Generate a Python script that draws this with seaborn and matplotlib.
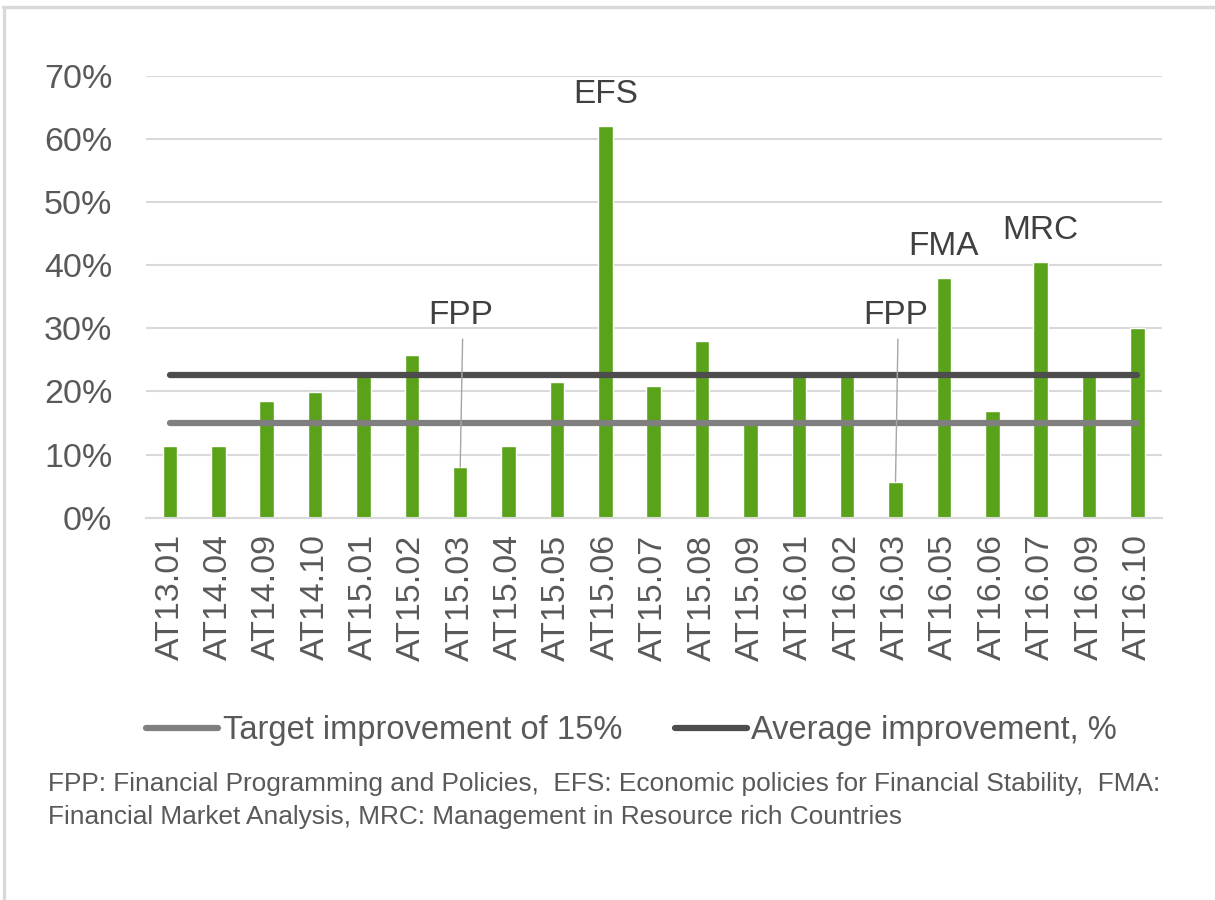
import numpy as np
import pandas as pd
import matplotlib
matplotlib.use("Agg")
import matplotlib.pyplot as plt
import seaborn as sns
from matplotlib.lines import Line2D

# data
courses = ["AT13.01", "AT14.04", "AT14.09", "AT14.10", "AT15.01", "AT15.02", "AT15.03",
           "AT15.04", "AT15.05", "AT15.06", "AT15.07", "AT15.08", "AT15.09", "AT16.01",
           "AT16.02", "AT16.03", "AT16.05", "AT16.06", "AT16.07", "AT16.09", "AT16.10"]
improvement = [11.4, 11.4, 18.5, 19.9, 22.5, 25.8, 8.0, 11.4, 21.5, 62.0, 20.9,
               28.0, 15.0, 22.5, 22.5, 5.7, 38.0, 16.9, 40.5, 22.5, 30.0]
target_value = 15.0
average_value = 22.6
y_ticks = [0, 10, 20, 30, 40, 50, 60, 70]

# labels above bars: (course, label)
direct_labels = [("AT15.06", "EFS"), ("AT16.05", "FMA"), ("AT16.07", "MRC")]
callout_labels = [("AT15.03", "FPP"), ("AT16.03", "FPP")]

footer = ("FPP: Financial Programming and Policies,  EFS: Economic policies for Financial Stability,  FMA:\n"
          "Financial Market Analysis, MRC: Management in Resource rich Countries")

GREEN = "#5BA21B"
TARGET_C = "#7F7F7F"
AVG_C = "#4D4D4D"
TEXT_C = "#595959"
GRID_C = "#D9D9D9"

sns.set_theme(style="white")
plt.rcParams["font.family"] = ["Liberation Sans", "DejaVu Sans"]

df = pd.DataFrame({"course": courses, "improvement": improvement})
pos = np.arange(len(courses))

fig = plt.figure(figsize=(12.15, 9), dpi=100)
ax = fig.add_axes([0.120, 0.4248, 0.836, 0.4911])

sns.barplot(data=df, x="course", y="improvement", color=GREEN, width=0.3,
            saturation=1, ax=ax, zorder=2)

sns.lineplot(x=pos, y=[target_value] * len(pos), color=TARGET_C, lw=4.5,
             solid_capstyle="round", label="Target improvement of 15%", ax=ax, zorder=3)
sns.lineplot(x=pos, y=[average_value] * len(pos), color=AVG_C, lw=4.5,
             solid_capstyle="round", label="Average improvement, %", ax=ax, zorder=3)

ax.set_xlim(-0.5, len(courses) - 0.5)
ax.set_ylim(0, 70)
ax.set_yticks(y_ticks)
ax.set_yticklabels([f"{v}%" for v in y_ticks])
ax.yaxis.grid(True, color=GRID_C, lw=1.5, zorder=0)
ax.set_axisbelow(True)
ax.set_xlabel("")
ax.set_ylabel("")
for s in ["top", "right", "left"]:
    ax.spines[s].set_visible(False)
ax.spines["bottom"].set_color(GRID_C)
ax.spines["bottom"].set_linewidth(1.5)
ax.tick_params(axis="y", length=0, pad=24, labelsize=24.5, labelcolor=TEXT_C)
ax.tick_params(axis="x", length=0, pad=12, labelsize=24.5, labelcolor=TEXT_C, rotation=90)

# course labels
idx = {c: i for i, c in enumerate(courses)}
for course, lab in direct_labels:
    i = idx[course]
    ax.text(i, improvement[i] + 3.6, lab, ha="center", va="baseline",
            fontsize=24, color="#404040")
for course, lab in callout_labels:
    i = idx[course]
    ax.text(i, 30.6, lab, ha="center", va="baseline", fontsize=24, color="#404040")
    ax.plot([i + 0.05, i], [28.3, improvement[i]], color="#A6A6A6", lw=1, zorder=4)

handles, labels = ax.get_legend_handles_labels()
ax.get_legend().remove()
fig.legend(handles, labels, loc="center", bbox_to_anchor=(0.52, 0.188), ncol=2,
           frameon=False, fontsize=23.5, labelcolor=TEXT_C, handlelength=2.2,
           handletextpad=0.15, columnspacing=1.6)

fig.text(0.0395, 0.142, footer, ha="left", va="top", fontsize=18.9,
         color=TEXT_C, linespacing=1.45)

# chart area border (top and left edges visible)
fig.add_artist(Line2D([3 / 1215, 1], [1 - 6.5 / 900] * 2, color=GRID_C, lw=2.4,
                      transform=fig.transFigure))
fig.add_artist(Line2D([3.5 / 1215] * 2, [0, 1 - 6.5 / 900], color=GRID_C, lw=2.4,
                      transform=fig.transFigure))

fig.savefig("out.png", dpi=100, facecolor="white")
